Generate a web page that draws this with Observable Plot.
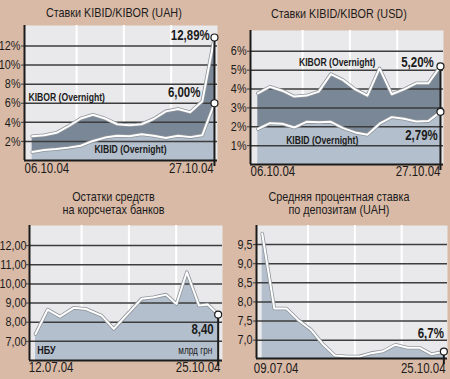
<!DOCTYPE html>
<html><head><meta charset="utf-8">
<script src="https://cdn.jsdelivr.net/npm/d3@7"></script>
<script src="https://cdn.jsdelivr.net/npm/@observablehq/plot@0.6"></script>
<style>
html,body{margin:0;padding:0;}
body{width:450px;height:379px;background:#d9baa6;position:relative;overflow:hidden;
  font-family:"Liberation Sans",Arial,sans-serif;color:#1b1b1b;}
.panel{position:absolute;width:225px;}
.panel svg{position:absolute;left:0;top:0;overflow:visible;}
.title{position:absolute;left:0;width:227px;text-align:center;font-size:13px;line-height:13.4px;z-index:2;}
.title span{display:inline-block;transform:scaleX(0.83);transform-origin:50% 50%;white-space:nowrap;}
</style></head><body>
<div class="panel" id="p1" style="left:0;top:0;height:190px"><div class="title" style="top:6px"><span>Ставки KIBID/KIBOR (UAH)</span></div></div>
<div class="panel" id="p2" style="left:225px;top:0;height:190px"><div class="title" style="top:7px"><span>Ставки KIBID/KIBOR (USD)</span></div></div>
<div class="panel" id="p3" style="left:0;top:190px;height:189px"><div class="title" style="top:-0.5px"><span>Остатки средств<br>на корсчетах банков</span></div></div>
<div class="panel" id="p4" style="left:225px;top:190px;height:189px"><div class="title" style="top:-0.5px"><span>Средняя процентная ставка<br>по депозитам (UAH)</span></div></div>
<script>
// ---- data ----
const uahDates = ["06.10.04", "27.10.04"];
const uahKibor = [2.55, 2.65, 2.9, 3.6, 4.4, 4.8, 4.4, 3.8, 3.7, 3.8, 4.35, 5.15, 5.4, 5.05, 6.2, 12.89];
const uahKibid = [0.9, 1.1, 1.2, 1.35, 1.55, 2.05, 2.4, 2.6, 2.55, 2.75, 2.6, 2.35, 2.6, 2.45, 2.65, 6.00];
const uahTicks = [2, 4, 6, 8, 10, 12];

const usdDates = ["06.10.04", "27.10.04"];
const usdKibor = [3.77, 4.12, 3.91, 3.6, 3.65, 3.86, 4.79, 4.47, 3.98, 3.65, 5.09, 3.72, 3.98, 4.3, 4.3, 5.20];
const usdKibid = [1.88, 2.19, 2.16, 1.96, 2.26, 2.24, 2.26, 1.93, 1.7, 1.58, 2.16, 2.51, 2.42, 2.28, 2.3, 2.79];
const usdTicks = [1, 2, 3, 4, 5, 6];

const balDates = ["12.07.04", "25.10.04"];
const balDays = [0, 7, 14, 22, 29, 38, 45, 61, 68, 75, 81, 87, 94, 99, 105];
const balances = [7.38, 8.66, 8.29, 8.75, 8.69, 8.34, 7.65, 9.22, 9.3, 9.44, 8.95, 10.61, 8.87, 8.92, 8.40];
const balTicks = [7, 8, 9, 10, 11, 12];

const depDates = ["09.07.04", "25.10.04"];
const depRates = [9.79, 7.83, 7.83, 7.52, 7.28, 6.9, 6.6, 6.57, 6.57, 6.66, 6.71, 6.88, 6.8, 6.8, 6.63, 6.7];
const depTicks = [7, 7.5, 8, 8.5, 9, 9.5];

// ---- styling ----
const FONT = '"Liberation Sans",Arial,sans-serif';
const NARROW = 0.82;
const INK = "#1b1b1b", GRID = "#3d3d3d", PLOTBG = "#e9e9eb", LIGHT = "#b3bfcc", DARK = "#7a8796", EDGE = "#8f959c";
const vFrac = [0.27, 0.515, 0.76];
const comma = (v, n) => v.toFixed(n).replace(".", ",");

function build(c) {
  const [x0, x1] = c.xDomain, [y0] = c.yDomain;
  const vx = vFrac.map(f => x0 + f * (x1 - x0));
  const last = c.data[c.data.length - 1];
  const marks = [
    Plot.frame({fill: PLOTBG, stroke: "none"}),
    Plot.ruleX(vx, {stroke: "white", strokeWidth: 2}),
    ...c.areas,
    Plot.ruleY(c.yTicks, {stroke: GRID, strokeWidth: 1.5}),
    Plot.axisY({ticks: c.yTicks, tickFormat: c.yFmt, tickSize: 3, tickPadding: c.tickPad ?? 1,
      fontSize: 13.2, stroke: GRID, fill: INK, label: null}),
  ];
  for (const key of c.lines) {
    marks.push(Plot.line(c.data, {x: "x", y: key, stroke: EDGE, strokeWidth: 3.6}));
    marks.push(Plot.line(c.data, {x: "x", y: key, stroke: "white", strokeWidth: 2}));
  }
  marks.push(
    Plot.ruleX([x0], {stroke: INK, strokeWidth: 2}),
    Plot.ruleY([y0], {stroke: INK, strokeWidth: 2}),
    Plot.ruleX([last], {x: "x", y1: c.lines[0], y2: () => y0, stroke: INK, strokeWidth: 2, insetBottom: -6})
  );
  for (const key of c.lines) {
    marks.push(Plot.dot([last], {x: "x", y: key, r: 3.5, fill: "white", stroke: INK, strokeWidth: 1.2}));
  }
  for (const l of c.labels) {
    marks.push(Plot.text([l], {x: "x", y: "y", text: "t", textAnchor: l.anchor || "middle",
      dx: l.dx || 0, dy: l.dy || 0, fontSize: l.size || 10.5, fontWeight: l.weight || "bold", fill: INK}));
  }
  for (const l of (c.frameLabels || [])) {
    marks.push(Plot.text([l.t], {text: d => d, frameAnchor: l.frameAnchor, textAnchor: l.anchor,
      dx: l.dx, dy: l.dy, fontSize: l.size, fontWeight: l.weight, fill: INK}));
  }
  marks.push(
    Plot.text([c.dates[0]], {text: d => d, frameAnchor: "bottom-left", textAnchor: "start",
      dx: c.dateDx[0], dy: c.dateDy, fontSize: 14, fill: INK}),
    Plot.text([c.dates[1]], {text: d => d, x: () => last.x, frameAnchor: "bottom", textAnchor: "end",
      dx: c.dateDx[1], dy: c.dateDy, fontSize: 14, fill: INK})
  );
  const svg = Plot.plot({
    width: 225, height: c.height,
    marginLeft: c.m[0], marginRight: c.m[1], marginTop: c.m[2], marginBottom: c.m[3],
    x: {domain: c.xDomain, axis: null},
    y: {domain: c.yDomain, axis: null},
    style: {background: "transparent", fontFamily: FONT, overflow: "visible", color: INK},
    marks
  });
  // narrow the letterforms (Arial Narrow look) around each text's anchor
  svg.querySelectorAll("text").forEach(t => {
    const tr = t.getAttribute("transform");
    if (tr != null) t.setAttribute("transform", tr + ` scale(${NARROW},1)`);
    else {
      const x = +(t.getAttribute("x") || 0), y = +(t.getAttribute("y") || 0);
      t.setAttribute("transform", `translate(${x},${y}) scale(${NARROW},1)`);
      t.setAttribute("x", 0); t.setAttribute("y", 0);
    }
  });
  document.getElementById(c.id).appendChild(svg);
}

// Panel 1
const d1 = uahKibor.map((v, i) => ({x: i, hi: v, lo: uahKibid[i]}));
const l1 = d1[d1.length - 1];
build({
  id: "p1", height: 190, m: [24, 8, 25, 30],
  xDomain: [-0.63, 15.25], yDomain: [0, 14.15],
  yTicks: uahTicks, yFmt: d => d + "%",
  data: d1, lines: ["hi", "lo"],
  areas: [
    Plot.areaY(d1, {x: "x", y1: 0, y2: "lo", fill: LIGHT}),
    Plot.areaY(d1, {x: "x", y1: "lo", y2: "hi", fill: DARK})
  ],
  labels: [
    {x: -0.3, y: 6.6, t: "KIBOR (Overnight)", anchor: "start"},
    {x: 8.09, y: 1.18, t: "KIBID (Overnight)"},
    {x: l1.x, y: l1.hi, t: comma(l1.hi, 2) + "%", anchor: "end", dx: -4.7, dy: -2, size: 14},
    {x: l1.x, y: l1.lo, t: comma(l1.lo, 2) + "%", anchor: "end", dx: -14, dy: -11, size: 14}
  ],
  dates: uahDates, dateDx: [0, -0.7], dateDy: 12.5
});

// Panel 2
const d2 = usdKibor.map((v, i) => ({x: i, hi: v, lo: usdKibid[i]}));
const l2 = d2[d2.length - 1];
build({
  id: "p2", height: 190, m: [25, 7, 30, 26],
  xDomain: [-0.6, 15.25], yDomain: [0, 7.1],
  yTicks: usdTicks, yFmt: d => d + "%",
  data: d2, lines: ["hi", "lo"],
  areas: [
    Plot.areaY(d2, {x: "x", y1: 0, y2: "lo", fill: LIGHT}),
    Plot.areaY(d2, {x: "x", y1: "lo", y2: "hi", fill: DARK})
  ],
  labels: [
    {x: 6.52, y: 5.38, t: "KIBOR (Overnight)"},
    {x: 5.29, y: 1.27, t: "KIBID (Overnight)"},
    {x: l2.x, y: l2.hi, t: comma(l2.hi, 2) + "%", anchor: "end", dx: -6.7, dy: -4.2, size: 14},
    {x: l2.x, y: l2.lo, t: comma(l2.lo, 2) + "%", anchor: "end", dx: -2.7, dy: 23.6, size: 14}
  ],
  dates: usdDates, dateDx: [0, 0], dateDy: 11.8
});

// Panel 3
const d3v = balances.map((v, i) => ({x: balDays[i], v}));
const l3 = d3v[d3v.length - 1];
build({
  id: "p3", height: 189, m: [29, 3, 35, 19],
  xDomain: [-3.45, 107.5], yDomain: [6, 13.05],
  yTicks: balTicks, yFmt: d => comma(d, 2), tickPad: 0,
  data: d3v, lines: ["v"],
  areas: [Plot.areaY(d3v, {x: "x", y1: 6, y2: "v", fill: LIGHT})],
  labels: [
    {x: l3.x, y: l3.v, t: comma(l3.v, 2), anchor: "end", dx: -4.4, dy: 14.7, size: 14}
  ],
  frameLabels: [
    {t: "НБУ", frameAnchor: "bottom-left", anchor: "start", dx: 7.7, dy: -6.7, size: 11, weight: "bold"},
    {t: "млрд грн", frameAnchor: "bottom-right", anchor: "end", dx: -10.3, dy: -6.7, size: 10, weight: "normal"}
  ],
  dates: balDates, dateDx: [-0.7, 2.3], dateDy: 11.7
});

// Panel 4
const d4 = depRates.map((v, i) => ({x: i, v}));
const l4 = d4[d4.length - 1];
build({
  id: "p4", height: 189, m: [31, 3, 35, 21],
  xDomain: [-0.47, 15.3], yDomain: [6.52, 10.0],
  yTicks: depTicks, yFmt: d => comma(d, 1), tickPad: 1,
  data: d4, lines: ["v"],
  areas: [Plot.areaY(d4, {x: "x", y1: 6.52, y2: "v", fill: LIGHT})],
  labels: [
    {x: l4.x, y: l4.v, t: comma(l4.v, 1) + "%", anchor: "end", dx: 0, dy: -17.8, size: 14}
  ],
  dates: depDates, dateDx: [-2.7, 1.7], dateDy: 14
});
</script>
</body></html>
